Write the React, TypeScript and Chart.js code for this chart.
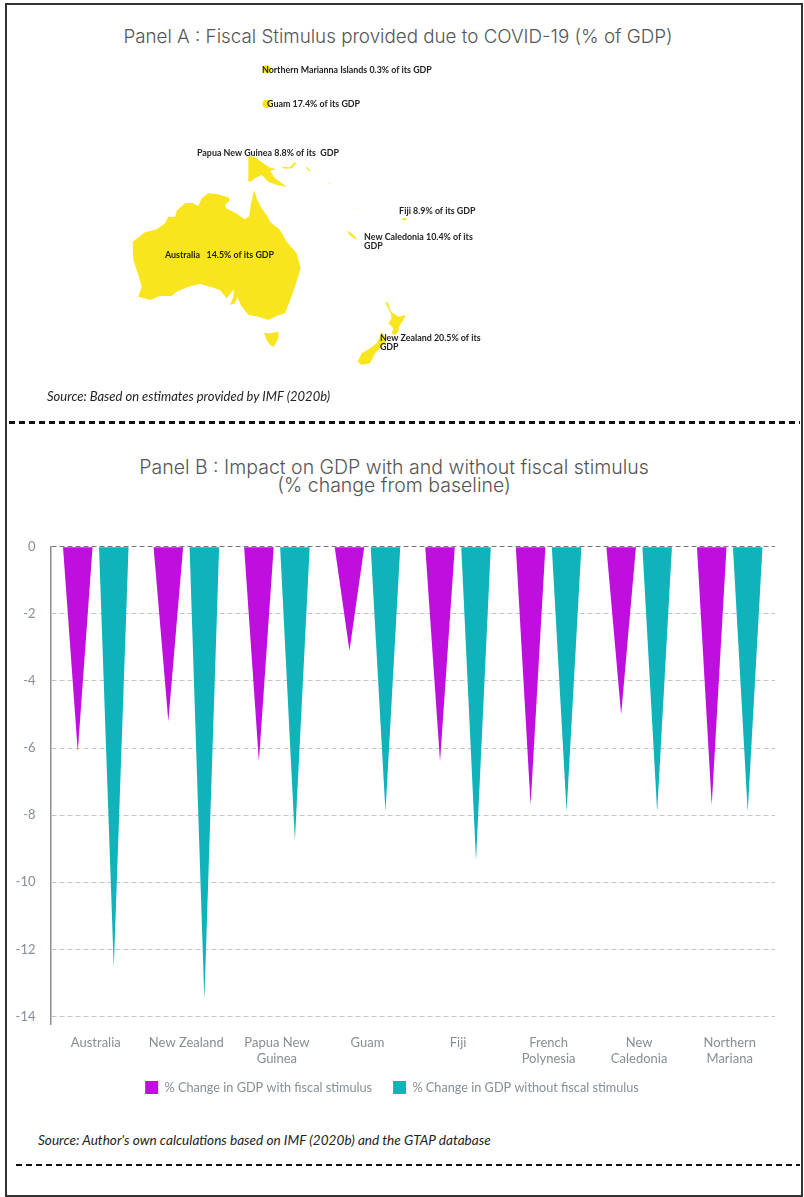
import React, { useEffect, useRef } from "react";
import { Chart, registerables } from "chart.js";

Chart.register(...registerables);

const FONT = "Lato, 'Open Sans', sans-serif";
const TITLE_FONT = "Inter, 'Open Sans', sans-serif";

// ---------- Panel A: map outlines as [longitude, latitude] ----------
const australia = [[113.36,-21.93],[116.31,-19.9],[119.1,-19.25],[121.1,-17.95],[121.89,-16.5],[123.49,-16.5],[123.89,-15.19],[125.88,-13.6],[127.47,-13.45],[129.07,-14.18],[129.87,-12.51],[131.46,-11.42],[133.45,-11.57],[136.25,-12.29],[136.64,-12.87],[135.45,-13.96],[135.69,-14.69],[137.84,-15.63],[140.23,-17.08],[141.27,-16.35],[141.59,-13.96],[142.39,-10.7],[143.18,-12.87],[144.22,-14.69],[145.42,-16.13],[146.21,-17.58],[148.61,-19.4],[150.2,-21.93],[152.59,-24.47],[153.55,-27.73],[152.19,-31.71],[150.6,-35.7],[149.8,-37.51],[147.81,-38.09],[145.81,-38.96],[143.42,-38.23],[141.03,-37.87],[139.2,-35.7],[138.4,-33.89],[137.84,-35.34],[136.64,-35.7],[137.44,-33.89],[137.6,-32.29],[135.85,-34.25],[134.25,-32.44],[131.86,-31.71],[129.47,-31.13],[126.68,-31.71],[123.89,-32.8],[122.69,-33.74],[119.9,-33.74],[117.51,-34.61],[114.72,-33.89],[115.51,-31.71],[114.72,-29.18],[113.52,-25.92]];
const tasmania = [[144.78,-41.71],[146.21,-41.86],[148.21,-41.5],[148.21,-42.94],[147.17,-44.76],[146.21,-44.39],[145.42,-43.31]];
const papuaNewGuinea = [[141.03,-3.31],[142.62,-3.6],[144.62,-4.91],[146.05,-5.78],[147.81,-6.21],[146.21,-6.5],[147.41,-8.17],[150.2,-9.98],[147.81,-9.62],[145.81,-8.89],[144.22,-7.44],[142.62,-8.17],[141.83,-8.75],[141.03,-8.89]];
const newBritain = [[148.77,-5.63],[151,-5.78],[152.19,-4.54],[152.43,-5.05],[151.4,-6],[149.8,-6.07]];
const bougainville = [[154.98,-5.63],[155.94,-6.5],[155.62,-6.65],[154.83,-5.92]];
const solomon = [[160.01,-9.1],[160.97,-9.25],[160.57,-9.54]];
const vanuatu = [[166.95,-14.54],[167.43,-15.05],[167.11,-15.05]];
const newCaledonia = [[164.56,-19.54],[165.75,-20.12],[167.11,-21.42],[166.63,-21.42],[165.35,-20.55]];
const fiji = [[177.79,-16.86],[178.91,-16.86],[178.91,-17.22],[177.95,-17.29]];
const nzNorth = [[173.73,-34.83],[174.53,-35.34],[175.16,-37.15],[175.72,-37.51],[176.92,-38.23],[178.67,-37.87],[178.11,-38.96],[177.16,-40.26],[176.92,-41.5],[176.12,-42.22],[175.32,-41.86],[175.72,-40.77],[174.53,-39.68],[175.32,-38.6],[175.08,-37.51],[174.29,-36.06]];
const nzSouth = [[172.93,-41.5],[173.73,-42.58],[173.97,-43.67],[172.53,-45.12],[171.34,-46.2],[170.14,-48.38],[168.15,-48.74],[167.19,-48.02],[168.15,-46.2],[170.14,-45.12],[171.73,-44.03],[172.53,-42.58]];
const islandDots = [[145.4, 15.53], [145.4, 7.99]];

const mapShapes = [australia, tasmania, papuaNewGuinea, newBritain, bougainville, newCaledonia, fiji, nzNorth, nzSouth];
const faintShapes = [solomon, vanuatu];

const mapLabels: { at: number[]; lines: string[] }[] = [
  { at: [144.3, 15.39], lines: ["Northern Marianna Islands 0.3% of its GDP"] },
  { at: [145.5, 8.0], lines: ["Guam 17.4% of its GDP"] },
  { at: [128.75, -2.66], lines: ["Papua New Guinea 8.8% of its  GDP"] },
  { at: [177.1, -15.27], lines: ["Fiji 8.9% of its GDP"] },
  { at: [168.7, -20.92], lines: ["New Caledonia 10.4% of its", "GDP"] },
  { at: [121.1, -24.83], lines: ["Australia   14.5% of its GDP"] },
  { at: [172.5, -42.87], lines: ["New Zealand 20.5% of its", "GDP"] },
];

// ---------- Panel B ----------
const categories = ["Australia", "New Zealand", ["Papua New", "Guinea"], "Guam", "Fiji", ["French", "Polynesia"], ["New", "Caledonia"], ["Northern", "Mariana"]];
const withStimulus = [-6.1, -5.2, -6.4, -3.1, -6.4, -7.7, -5.0, -7.7];
const withoutStimulus = [-12.55, -13.5, -8.75, -7.9, -9.35, -7.9, -7.9, -7.9];
const yTicks = [0, -2, -4, -6, -8, -10, -12, -14];
const seriesNames = ["% Change in GDP with fiscal stimulus", "% Change in GDP without fiscal stimulus"];

const PURPLE = "#BE0FDE";
const TEAL = "#0FB3B9";
const YELLOW = "#F9E51E";

const trianglePlugin = {
  id: "triangles",
  beforeDatasetDraw(chart: any, args: any) {
    const { ctx } = chart;
    const color = chart.data.datasets[args.index].backgroundColor;
    ctx.save();
    ctx.fillStyle = color;
    for (const el of args.meta.data) {
      const { x, y, base, width } = el.getProps(["x", "y", "base", "width"], true);
      ctx.beginPath();
      ctx.moveTo(x - width / 2, base);
      ctx.lineTo(x + width / 2, base);
      ctx.lineTo(x, y);
      ctx.closePath();
      ctx.fill();
    }
    ctx.restore();
    return false;
  },
};

const legendShiftPlugin = {
  id: "legendShift",
  afterLayout(chart: any) {
    chart.legend.top -= 17;
    chart.legend.bottom -= 17;
  },
};

// Fills each map dataset as a closed polygon, from the points placed by the scales.
const polygonPlugin = {
  id: "polygons",
  beforeDatasetDraw(chart: any, args: any) {
    const ds = chart.data.datasets[args.index];
    if (!ds.polygon) return true;
    const { ctx } = chart;
    ctx.save();
    ctx.fillStyle = ds.backgroundColor;
    ctx.beginPath();
    args.meta.data.forEach((p: any, i: number) => (i ? ctx.lineTo(p.x, p.y) : ctx.moveTo(p.x, p.y)));
    ctx.closePath();
    ctx.fill();
    ctx.restore();
    return false;
  },
};

const mapLabelPlugin = {
  id: "mapLabels",
  afterDatasetsDraw(chart: any) {
    const { ctx, scales } = chart;
    ctx.save();
    ctx.fillStyle = "#222";
    ctx.font = `bold 8.9px ${FONT}`;
    ctx.textAlign = "left";
    ctx.textBaseline = "middle";
    for (const l of mapLabels) {
      const x = scales.x.getPixelForValue(l.at[0]);
      const y = scales.y.getPixelForValue(l.at[1]);
      l.lines.forEach((t, i) => ctx.fillText(t, x, y + i * 9));
    }
    ctx.restore();
  },
};

const textBase: React.CSSProperties = { position: "absolute", fontFamily: FONT, whiteSpace: "nowrap" };

export default function App() {
  const mapRef = useRef<HTMLCanvasElement>(null);
  const barRef = useRef<HTMLCanvasElement>(null);

  useEffect(() => {
    const toXY = (s: number[][]) => s.map(([x, y]) => ({ x, y }));
    const shapeSet = (s: number[][], color: string) => ({
      data: toXY(s),
      polygon: true,
      showLine: false,
      pointRadius: 0,
      backgroundColor: color,
    });
    const map = new Chart(mapRef.current!, {
      type: "scatter",
      data: {
        datasets: [
          ...mapShapes.map((s) => shapeSet(s, YELLOW)),
          ...faintShapes.map((s) => shapeSet(s, "#FCF5A8")),
          { data: toXY(islandDots), pointRadius: 4.3, pointBackgroundColor: YELLOW, pointBorderWidth: 0 },
        ] as any,
      },
      options: {
        responsive: false,
        animation: false,
        layout: { padding: 0, autoPadding: false },
        plugins: { legend: { display: false }, tooltip: { enabled: false } },
        scales: {
          x: { type: "linear", display: false, min: 81.62, max: 273.96 },
          y: { type: "linear", display: false, min: -54.18, max: 19.73 },
        },
      } as any,
      plugins: [polygonPlugin, mapLabelPlugin],
    });

    const bar = new Chart(barRef.current!, {
      type: "bar",
      data: {
        labels: categories as any,
        datasets: [
          { label: seriesNames[0], data: withStimulus, backgroundColor: PURPLE, categoryPercentage: 0.795, barPercentage: 0.82 },
          { label: seriesNames[1], data: withoutStimulus, backgroundColor: TEAL, categoryPercentage: 0.795, barPercentage: 0.82 },
        ],
      },
      options: {
        responsive: false,
        animation: false,
        layout: { padding: { left: 9, right: 29, top: 10, bottom: 0 } },
        plugins: {
          tooltip: { enabled: false },
          legend: {
            position: "bottom",
            labels: { boxWidth: 13, boxHeight: 13, padding: 21, color: "#868E96", font: { family: FONT, size: 12.7 } },
          },
        },
        scales: {
          x: {
            position: "bottom",
            grid: { display: false, drawTicks: false },
            border: { display: false },
            ticks: { color: "#868E96", font: { family: FONT, size: 13, lineHeight: 1.25 }, maxRotation: 0, autoSkip: false, padding: 10 },
          },
          y: {
            min: -14.24,
            max: 0,
            afterBuildTicks: (s: any) => { s.ticks = yTicks.map((value) => ({ value })); },
            afterFit: (s: any) => { s.width = 41.5; },
            grid: {
              color: (c: any) => (c.tick && c.tick.value === 0 ? "#777" : "#C4C4C4"),
              lineWidth: 1,
              drawTicks: false,
            },
            border: { display: true, color: "#8A8F94", width: 1.5, dash: [5, 3] },
            ticks: { color: "#868E96", font: { family: FONT, size: 13 }, padding: 15 },
          },
        },
      } as any,
      plugins: [trianglePlugin, legendShiftPlugin],
    });
    return () => {
      map.destroy();
      bar.destroy();
    };
  }, []);

  const dash = (top: number, left: number, right: number, h: number): React.CSSProperties => ({
    position: "absolute",
    top,
    left,
    width: right - left,
    height: h,
    background: "repeating-linear-gradient(90deg,#111 0 6px,transparent 6px 10px)",
  });

  return (
    <div style={{ position: "absolute", left: 0, top: 0, width: 804, height: 1197, background: "#fff", overflow: "hidden" }}>
      <div style={{ position: "absolute", left: 5, top: 3, width: 798, height: 1194, border: "2px solid #333", boxSizing: "border-box" }} />
      <div style={{ ...textBase, left: 0, width: 796, top: 25, textAlign: "center", fontFamily: TITLE_FONT, fontWeight: 300, fontSize: 18.8, color: "#555" }}>
        Panel A : Fiscal Stimulus provided due to COVID-19 (% of GDP)
      </div>
      <canvas ref={mapRef} width={804} height={340} style={{ position: "absolute", left: 0, top: 50, width: 804, height: 340 }} />
      <div style={{ ...textBase, left: 47, top: 388, fontSize: 13, fontStyle: "italic", color: "#222" }}>
        Source: Based on estimates provided by IMF (2020b)
      </div>
      <div style={dash(420.5, 9, 800, 3)} />
      <div style={{ ...textBase, left: 0, width: 788, top: 458, textAlign: "center", fontFamily: TITLE_FONT, fontWeight: 300, fontSize: 19.5, lineHeight: "18px", color: "#555" }}>
        Panel B : Impact on GDP with and without fiscal stimulus
        <br />
        (% change from baseline)
      </div>
      <canvas ref={barRef} width={804} height={597} style={{ position: "absolute", left: 0, top: 524, width: 804, height: 597 }} />
      <div style={{ ...textBase, left: 38, top: 1132, fontSize: 13.6, fontStyle: "italic", color: "#222" }}>
        Source: Author's own calculations based on IMF (2020b) and the GTAP database
      </div>
      <div style={dash(1164, 16, 800, 2)} />
    </div>
  );
}
